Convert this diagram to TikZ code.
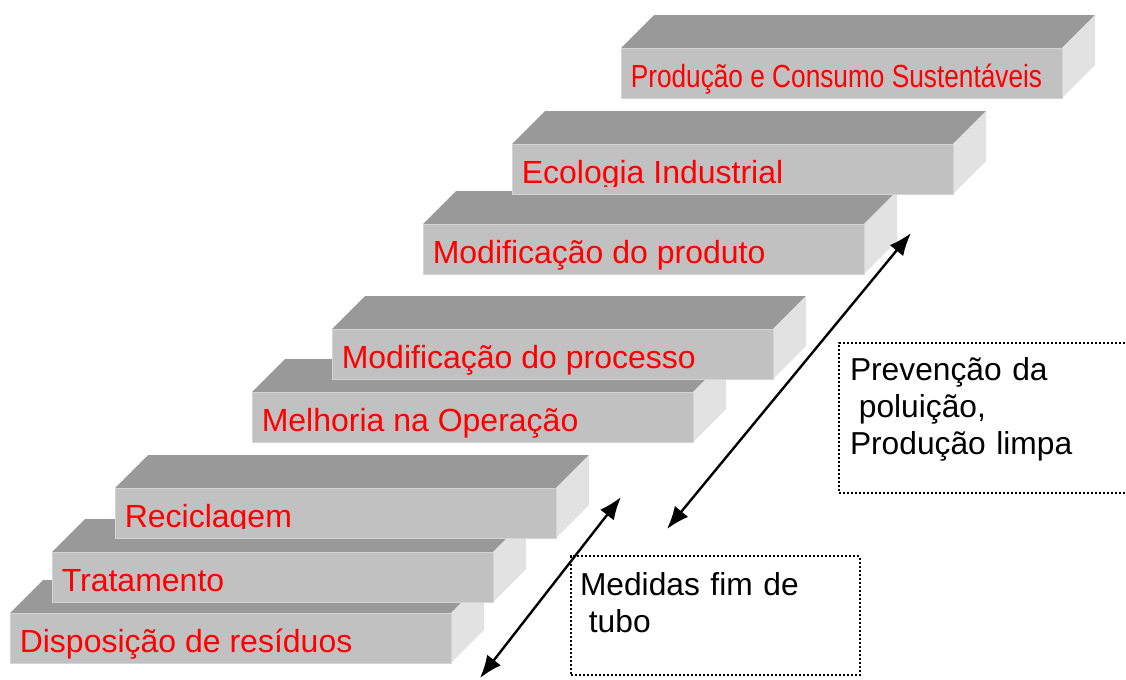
\documentclass[tikz,border=0pt]{standalone}
\usepackage{fontspec}
\setmainfont{Liberation Sans}
\newfontfamily\narrowfont{Liberation Sans}[FakeStretch=0.82]
\usepackage{tikz}
\usetikzlibrary{arrows.meta}
\definecolor{topgray}{gray}{0.6}
\definecolor{frontgray}{gray}{0.755}
\definecolor{sidegray}{gray}{0.885}
\definecolor{edgegray}{gray}{0.83}
\definecolor{labelred}{rgb}{1,0,0}
\tikzset{
  stairtop/.style={fill=topgray},
  stairside/.style={fill=sidegray},
  stairfront/.style={fill=frontgray, draw=edgegray, line width=0.75pt},
  stairlabel/.style={anchor=base west, inner sep=0pt, text=labelred, font=\fontsize{24}{28}\selectfont},
  notebox/.style={draw, line width=1.5pt, dash pattern=on 1.5pt off 1.5pt, anchor=north west, align=left, inner ysep=0pt, font=\fontsize{23.8}{28}\selectfont},
  twoway/.style={{Latex[length=17pt,width=13pt]}-{Latex[length=17pt,width=13pt]}, line width=1.8pt}
}

\begin{document}
\begin{tikzpicture}[x=0.75pt, y=-0.75pt]
        \useasboundingbox (0,0) rectangle (1126,679);
        \foreach \x/\y/\cut/\txt [count=\i] in {10/613/50/Disposição de resíduos, 52/552/50/Tratamento, 115/488/40/Reciclagem, 252/392/50/Melhoria na Operação, 332/329/50/Modificação do processo, 423/224/50/Modificação do produto, 512/144/42/Ecologia Industrial, 621/48/50/{\narrowfont Produção e Consumo Sustentáveis}} {
            \fill[stairtop] (\x,\y) -- ++(33,-33) -- ++(441,0) -- ++(-33,33) -- cycle;
            \fill[stairside] (\x+441,\y) -- ++(33,-33) -- ++(0,50) -- ++(-33,33) -- cycle;
            \draw[stairfront] (\x,\y) rectangle ++(441,50);
            \begin{scope}
                \clip (\x,\y) rectangle ++(441,\cut);
                \node[stairlabel] (stair\i) at (\x+9.5,\y+39) {\txt};
            \end{scope}
        }
        
        \node[notebox, text width=202.5pt, text height=27.75pt, text depth=84.75pt, inner xsep=8.25pt] (prevention) at (838,342) {Prevenção da\\\hspace*{0.28em}poluição,\\Produção limpa};
        \node[notebox, text width=203pt, text height=29.25pt, text depth=60pt, inner xsep=6.75pt] (endpipe) at (570,555) {Medidas fim de\\\hspace*{0.28em}tubo};
        
        \coordinate (cleanTop) at (911,233);
        \coordinate (cleanEnd) at (667,529);
        \coordinate (pipeTop) at (621,497);
        \coordinate (pipeEnd) at (480,678);
        \draw[twoway] (cleanEnd) -- (cleanTop);
        \draw[twoway] (pipeEnd) -- (pipeTop);
    \end{tikzpicture}
\end{document}
